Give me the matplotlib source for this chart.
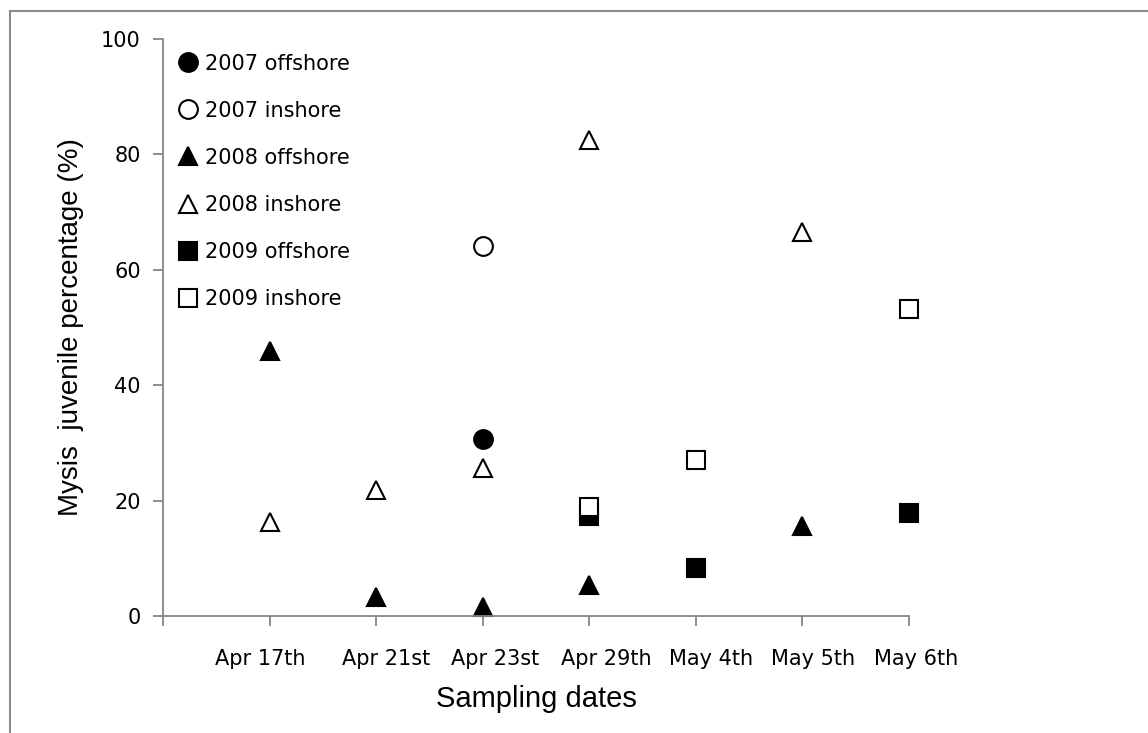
import matplotlib.pyplot as plt
from matplotlib.lines import Line2D
from matplotlib.transforms import ScaledTranslation

dates = ["Apr 17th", "Apr 21st", "Apr 23st", "Apr 29th", "May 4th", "May 5th", "May 6th"]
x_pos = [1, 2, 3, 4, 5, 6, 7]

# None = not sampled on that date
off_2007 = [None, None, 30.6, None, None, None, None]
in_2007 = [None, None, 64.1, None, None, None, None]
off_2008 = [45.9, 3.3, 1.6, 5.4, None, 15.6, None]
in_2008 = [16.3, 21.9, 25.6, 82.5, None, 66.5, None]
off_2009 = [None, None, None, 17.4, 8.4, None, 17.8]
in_2009 = [None, None, None, 18.9, 27.0, None, 53.2]

series = [
    ("2007 offshore", off_2007, "o", "black"),
    ("2007 inshore", in_2007, "o", "white"),
    ("2008 offshore", off_2008, "^", "black"),
    ("2008 inshore", in_2008, "^", "white"),
    ("2009 offshore", off_2009, "s", "black"),
    ("2009 inshore", in_2009, "s", "white"),
]

tick_font = ["DejaVu Sans"]
title_font = ["Liberation Sans", "DejaVu Sans"]
axis_grey = "#868686"

fig = plt.figure(figsize=(11.48, 7.33), dpi=100)
ax = fig.add_axes([163 / 1148, 1 - 616 / 733, (909 - 163) / 1148, (616 - 39) / 733])

for name, vals, mk, face in series:
    xs = [x for x, v in zip(x_pos, vals) if v is not None]
    ys = [v for v in vals if v is not None]
    ax.plot(xs, ys, linestyle="none", marker=mk, markersize=13.5,
            markerfacecolor=face, markeredgecolor="black", markeredgewidth=1.5,
            label=name, clip_on=False)

ax.set_xlim(0, 7)
ax.set_ylim(0, 100)
ax.set_yticks([0, 20, 40, 60, 80, 100])
ax.set_xticks(range(0, 8))
ax.set_xticklabels([""] + dates)

for side in ["top", "right"]:
    ax.spines[side].set_visible(False)
for side in ["left", "bottom"]:
    ax.spines[side].set_color(axis_grey)
    ax.spines[side].set_linewidth(1.3)
ax.tick_params(axis="both", color=axis_grey, width=1.3, length=7,
               labelsize=15, pad=9)
for lab in ax.get_xticklabels() + ax.get_yticklabels():
    lab.set_family(tick_font)

# date labels sit a little right of their ticks
shifts = [0, -9, 10, 12, 17, 15, 11, 7]
for lab, dx in zip(ax.get_xticklabels(), shifts):
    lab.set_transform(lab.get_transform() + ScaledTranslation(dx / 100, -11 / 100, fig.dpi_scale_trans))

ax.set_ylabel("Mysis  juvenile percentage (%)", fontsize=20, family=title_font, labelpad=12)
ax.set_xlabel("Sampling dates", fontsize=21, family=title_font)
ax.xaxis.set_label_coords(0.5, -0.12)

leg = ax.legend(loc="upper left", bbox_to_anchor=(0.0, 1.0), frameon=False,
                labelspacing=1.3, handletextpad=0.3, handlelength=1.0,
                markerscale=1.0, borderaxespad=0.3,
                prop={"family": tick_font, "size": 15})

# outer chart frame
fig.add_artist(Line2D([10 / 1148, 10 / 1148], [0, 1 - 11 / 733], color="#8c8c8c", lw=1.5))
fig.add_artist(Line2D([10 / 1148, 1], [1 - 11 / 733, 1 - 11 / 733], color="#8c8c8c", lw=1.5))

fig.savefig("out.png", dpi=100)
